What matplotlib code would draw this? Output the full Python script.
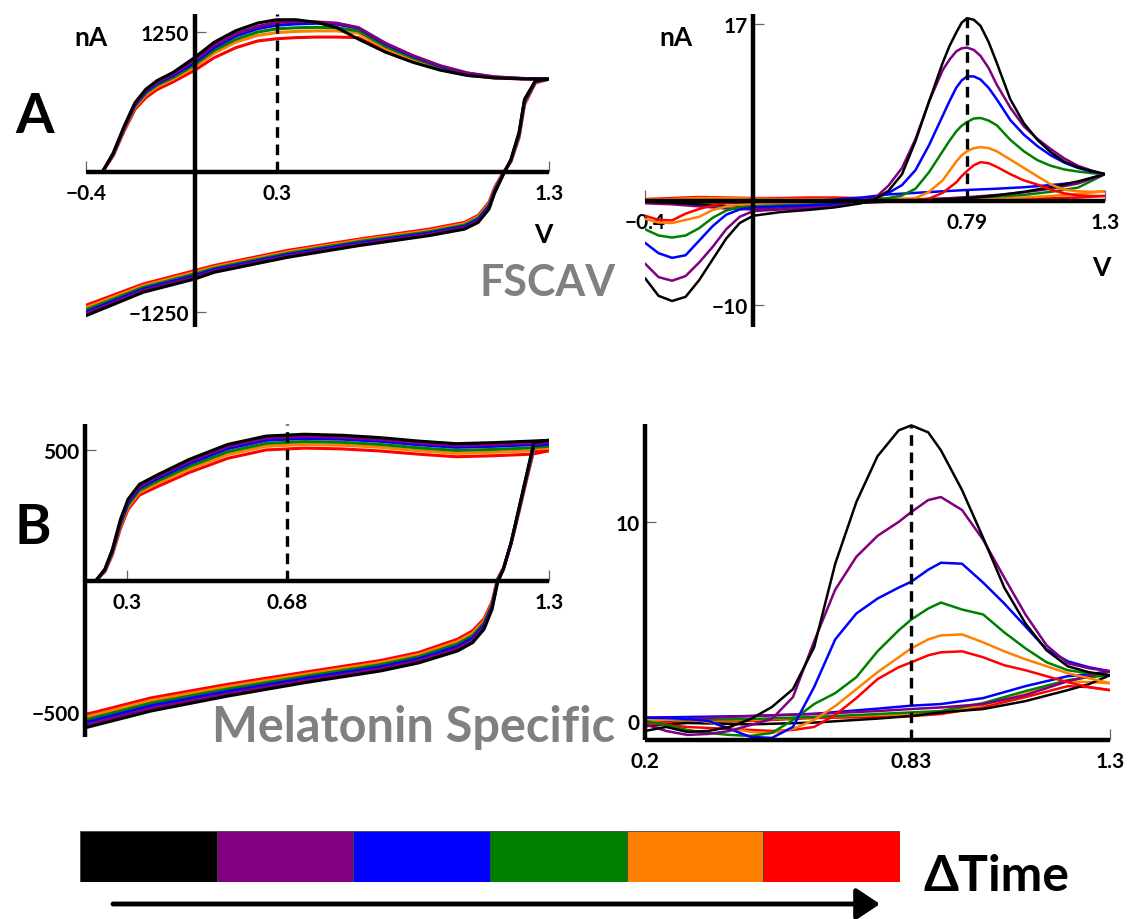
import matplotlib
matplotlib.use("Agg")
import matplotlib.pyplot as plt

W, H = 1129, 920
plt.rcParams['font.family'] = ['Lato', 'DejaVu Sans']
plt.rcParams['font.weight'] = 'bold'

# trace order: earliest (black) -> latest (red)
trace_colors = ["#000000", "#800080", "#0000ff", "#008000", "#ff8000", "#ff0000"]
draw_order = [5, 4, 3, 2, 1, 0]

# ---- A: FSCAV cyclic voltammogram (nA vs V) ----
a_cv_fwd_v = [-0.34, -0.3, -0.26, -0.22, -0.18, -0.14, -0.08, 0.0, 0.07, 0.15, 0.23, 0.30,
              0.37, 0.45, 0.52, 0.6, 0.7, 0.8, 0.9, 1.0, 1.1, 1.2, 1.3]
a_cv_fwd_i = [
    [0, 170, 410, 620, 740, 815, 890, 1024, 1158, 1262, 1330, 1360, 1360, 1335, 1290, 1187, 1070, 980, 910, 862, 840, 832, 830],
    [0, 165, 400, 610, 730, 800, 875, 1000, 1130, 1235, 1300, 1335, 1345, 1340, 1330, 1290, 1150, 1040, 950, 885, 850, 836, 830],
    [0, 160, 395, 600, 720, 790, 862, 980, 1110, 1215, 1280, 1310, 1322, 1328, 1320, 1285, 1140, 1035, 945, 882, 848, 835, 830],
    [0, 155, 388, 590, 705, 775, 845, 960, 1085, 1185, 1250, 1278, 1288, 1292, 1288, 1260, 1120, 1020, 935, 875, 845, 834, 830],
    [0, 150, 380, 578, 690, 760, 830, 940, 1060, 1160, 1220, 1245, 1255, 1260, 1260, 1240, 1100, 1005, 925, 870, 842, 833, 830],
    [0, 145, 365, 560, 665, 735, 805, 910, 1020, 1110, 1170, 1190, 1200, 1205, 1205, 1200, 1080, 990, 915, 865, 840, 831, 830],
]
a_cv_rev_v = [1.3, 1.25, 1.21, 1.19, 1.16, 1.13, 1.1, 1.08, 1.04, 0.99, 0.86, 0.6, 0.34, 0.07, 0.0, -0.19, -0.4]
a_cv_rev_i = [
    [830, 815, 650, 355, 110, -35, -190, -330, -450, -510, -568, -658, -762, -896, -955, -1074, -1283],
    [830, 812, 640, 345, 110, -30, -180, -318, -438, -498, -556, -645, -750, -884, -940, -1060, -1265],
    [830, 808, 630, 335, 105, -25, -170, -305, -425, -486, -545, -634, -738, -872, -925, -1045, -1250],
    [830, 805, 620, 325, 100, -20, -160, -292, -412, -474, -534, -622, -726, -860, -910, -1030, -1230],
    [830, 800, 610, 315, 95, -15, -150, -280, -400, -462, -522, -611, -713, -848, -895, -1015, -1210],
    [830, 795, 600, 305, 90, -10, -140, -268, -388, -450, -510, -600, -700, -835, -880, -1000, -1190],
]
a_cv_marker = 0.3

# ---- A: background-subtracted FSCAV signal ----
a_sig_fwd_v = [-0.4, -0.35, -0.3, -0.25, -0.2, -0.15, -0.1, -0.05, 0.0, 0.1, 0.2, 0.3, 0.4, 0.45,
               0.5, 0.55, 0.6, 0.65, 0.7, 0.725, 0.75, 0.77, 0.79, 0.815, 0.84, 0.87, 0.9, 0.95,
               1.0, 1.05, 1.1, 1.15, 1.2, 1.25, 1.3]
a_sig_fwd_i = [
    [-7.4, -9.1, -9.6, -9.2, -7.6, -5.6, -3.6, -2.1, -1.4, -1.05, -0.85, -0.6, -0.2, 0.2,
     1.0, 2.6, 5.8, 9.6, 13.3, 14.9, 16.2, 17.15, 17.6, 17.45, 16.86, 15.3, 13.3, 9.8,
     7.5, 5.9, 4.7, 3.8, 3.25, 2.9, 2.6],
    [-6.0, -7.3, -7.65, -7.2, -5.9, -4.4, -2.7, -1.5, -0.95, -0.8, -0.7, -0.5, -0.15, 0.3,
     1.5, 3.2, 6.0, 9.6, 12.6, 13.6, 14.4, 14.7, 14.77, 14.55, 13.97, 12.8, 11.2, 9.0,
     7.2, 6.0, 5.0, 4.1, 3.4, 2.95, 2.6],
    [-4.0, -5.0, -5.45, -5.2, -3.8, -2.4, -1.3, -0.8, -0.6, -0.5, -0.4, -0.3, 0.0, 0.3,
     0.8, 1.55, 3.0, 5.4, 8.2, 9.6, 10.9, 11.6, 12.0, 12.0, 11.7, 10.9, 9.8, 7.8,
     6.4, 5.3, 4.4, 3.7, 3.2, 2.85, 2.6],
    [-2.7, -3.3, -3.5, -3.3, -2.6, -1.6, -0.9, -0.6, -0.5, -0.4, -0.35, -0.2, 0.0, 0.1,
     0.3, 0.55, 1.2, 2.8, 4.8, 5.8, 6.7, 7.25, 7.6, 7.95, 8.0, 7.75, 7.3, 5.9,
     4.8, 3.95, 3.4, 3.05, 2.85, 2.7, 2.6],
    [-1.7, -2.05, -2.1, -1.8, -1.5, -0.85, -0.5, -0.35, -0.3, -0.25, -0.2, -0.1, 0.0, 0.05,
     0.1, 0.2, 0.3, 0.9, 2.0, 2.9, 3.8, 4.4, 4.8, 5.1, 5.2, 5.1, 4.8, 4.0,
     3.2, 2.4, 1.6, 1.1, 0.95, 0.9, 0.95],
    [-1.4, -1.8, -1.85, -1.2, -0.75, -0.4, -0.15, -0.1, -0.1, -0.1, -0.05, 0.0, 0.0, 0.0,
     0.05, 0.1, 0.15, 0.25, 0.8, 1.3, 1.8, 2.4, 2.9, 3.45, 3.75, 3.65, 3.3, 2.6,
     2.0, 1.6, 1.1, 0.75, 0.55, 0.5, 0.5],
]
a_sig_rev_v = [1.3, 1.2, 1.1, 1.0, 0.9, 0.8, 0.7, 0.6, 0.5, 0.4, 0.3, 0.2, 0.1, 0.0, -0.1, -0.2, -0.3, -0.4]
a_sig_rev_i = [
    [2.6, 1.9, 1.35, 0.9, 0.55, 0.3, 0.15, 0.05, -0.05, -0.15, -0.25, -0.35, -0.45, -0.5, -0.45, -0.3, -0.15, 0.0],
    [2.6, 1.7, 1.2, 0.85, 0.6, 0.4, 0.25, 0.1, 0.0, -0.1, -0.3, -0.5, -0.7, -0.8, -0.7, -0.5, -0.3, -0.2],
    [2.6, 1.8, 1.55, 1.34, 1.2, 1.09, 0.95, 0.8, 0.65, 0.35, 0.15, 0.0, -0.1, -0.15, -0.1, 0.0, 0.0, 0.0],
    [2.6, 1.3, 0.9, 0.6, 0.45, 0.35, 0.25, 0.15, 0.1, 0.05, 0.0, -0.05, -0.1, -0.2, -0.15, -0.1, 0.0, 0.0],
    [0.95, 0.7, 0.5, 0.35, 0.25, 0.2, 0.15, 0.1, 0.1, 0.15, 0.2, 0.2, 0.2, 0.25, 0.3, 0.3, 0.2, 0.15],
    [0.5, 0.35, 0.3, 0.25, 0.2, 0.15, 0.15, 0.2, 0.25, 0.3, 0.35, 0.35, 0.3, 0.3, 0.35, 0.4, 0.3, 0.2],
]
a_sig_marker = 0.79

# ---- B: melatonin-specific waveform CV ----
b_cv_fwd_v = [0.225, 0.247, 0.265, 0.284, 0.302, 0.329, 0.374, 0.447, 0.538, 0.629, 0.72, 0.81,
              0.9, 0.99, 1.08, 1.17, 1.26, 1.3]
b_cv_fwd_i = [
    [0, 45, 121, 235, 312, 369, 407, 464, 521, 553, 560, 556, 547, 534, 524, 528, 534, 537],
    [0, 43, 117, 228, 305, 362, 400, 456, 513, 545, 552, 548, 540, 527, 517, 521, 527, 530],
    [0, 41, 113, 222, 298, 355, 393, 448, 505, 537, 544, 541, 533, 520, 510, 514, 520, 523],
    [0, 39, 109, 215, 290, 346, 383, 437, 493, 525, 532, 529, 521, 508, 498, 502, 508, 514],
    [0, 37, 105, 208, 282, 338, 374, 427, 482, 514, 521, 518, 510, 497, 487, 491, 497, 507],
    [0, 35, 100, 200, 273, 328, 362, 414, 468, 500, 507, 504, 496, 484, 474, 478, 484, 497],
]
b_cv_rev_v = [1.3, 1.264, 1.246, 1.228, 1.21, 1.192, 1.178, 1.165, 1.146, 1.119, 1.083, 0.992,
              0.901, 0.72, 0.538, 0.356, 0.2]
b_cv_rev_i = [
    [537, 528, 400, 273, 146, 45, -6, -108, -184, -235, -267, -312, -343, -388, -439, -496, -560],
    [530, 522, 396, 270, 145, 46, -3, -102, -176, -226, -258, -304, -335, -380, -430, -486, -550],
    [523, 516, 392, 267, 144, 47, 0, -96, -168, -217, -249, -296, -327, -372, -421, -476, -540],
    [514, 510, 388, 264, 143, 48, 3, -90, -160, -208, -240, -288, -319, -364, -412, -466, -530],
    [507, 504, 384, 261, 142, 49, 6, -84, -152, -199, -231, -280, -311, -356, -403, -456, -520],
    [497, 498, 380, 258, 141, 50, 9, -78, -144, -190, -222, -272, -303, -348, -394, -446, -510],
]
b_cv_marker = 0.68

# ---- B: background-subtracted melatonin signal ----
b_sig_fwd_v = [0.2, 0.25, 0.3, 0.35, 0.4, 0.45, 0.5, 0.55, 0.6, 0.65, 0.7, 0.75, 0.8, 0.83,
               0.87, 0.9, 0.95, 1.0, 1.05, 1.1, 1.15, 1.2, 1.25, 1.3]
b_sig_fwd_i = [
    [-0.5, -0.3, -0.55, -0.5, -0.3, 0.1, 0.7, 1.6, 3.7, 7.9, 11.0, 13.3, 14.6, 14.85,
     14.5, 13.6, 11.6, 9.2, 6.7, 4.9, 3.55, 2.75, 2.45, 2.3],
    [-0.17, -0.5, -0.7, -0.65, -0.5, -0.2, 0.1, 1.2, 4.0, 6.6, 8.25, 9.3, 10.0, 10.5,
     11.1, 11.25, 10.6, 9.1, 7.2, 5.35, 3.8, 2.9, 2.65, 2.5],
    [0.17, 0.15, 0.1, 0.0, -0.4, -0.8, -0.85, -0.3, 1.7, 4.1, 5.4, 6.15, 6.7, 7.0,
     7.6, 7.95, 7.9, 6.95, 5.9, 4.75, 3.6, 3.0, 2.7, 2.5],
    [0.0, -0.2, -0.45, -0.6, -0.7, -0.75, -0.6, 0.05, 0.85, 1.4, 2.2, 3.5, 4.55, 5.1,
     5.65, 5.95, 5.6, 5.35, 4.45, 3.65, 2.95, 2.55, 2.4, 2.3],
    [0.0, 0.05, 0.1, -0.05, -0.35, -0.55, -0.6, -0.4, 0.05, 0.75, 1.6, 2.45, 3.2, 3.65,
     4.1, 4.3, 4.35, 3.95, 3.5, 3.1, 2.75, 2.4, 2.15, 1.9],
    [-0.1, -0.2, -0.3, -0.35, -0.4, -0.45, -0.5, -0.45, -0.3, 0.3, 1.15, 2.1, 2.7, 2.95,
     3.3, 3.45, 3.5, 3.2, 2.8, 2.55, 2.25, 1.95, 1.7, 1.55],
]
b_sig_rev_v = [1.3, 1.25, 1.2, 1.1, 1.0, 0.9, 0.83, 0.75, 0.6, 0.45, 0.3, 0.2]
b_sig_rev_i = [
    [2.3, 1.85, 1.55, 1.0, 0.6, 0.43, 0.25, 0.12, -0.08, -0.17, -0.1, -0.26],
    [2.5, 2.25, 2.0, 1.3, 0.85, 0.68, 0.6, 0.5, 0.35, 0.25, 0.1, -0.09],
    [2.5, 2.35, 2.25, 1.75, 1.15, 0.85, 0.77, 0.62, 0.36, 0.25, 0.2, 0.17],
    [2.3, 2.2, 2.05, 1.5, 0.9, 0.5, 0.43, 0.35, 0.2, 0.1, 0.05, 0.0],
    [1.9, 1.95, 2.0, 1.35, 0.8, 0.45, 0.35, 0.3, 0.2, 0.05, 0.0, 0.0],
    [1.55, 1.7, 1.75, 1.2, 0.7, 0.35, 0.25, 0.2, 0.15, 0.0, -0.05, -0.05],
]
b_sig_marker = 0.83


def px_rect(left, top, width, height):
    return [left / W, 1 - (top + height) / H, width / W, height / H]


def fig_text(x, y, s, **kw):
    fig.text(x / W, 1 - y / H, s, **kw)


def style_axes(ax, xlim, ylim, xticks, xlabels, yticks, ylabels, spine_x, spine_y):
    ax.set_xlim(*xlim)
    ax.set_ylim(*ylim)
    ax.patch.set_alpha(0)
    for s in ("top", "right"):
        ax.spines[s].set_visible(False)
    ax.spines["left"].set_position(("data", spine_x))
    ax.spines["bottom"].set_position(("data", spine_y))
    for s in ("left", "bottom"):
        ax.spines[s].set_linewidth(3.2)
        ax.spines[s].set_capstyle("butt")
        ax.spines[s].set_zorder(4)
    ax.set_xticks(xticks, xlabels)
    ax.set_yticks(yticks, ylabels)
    ax.tick_params(direction="in", length=8, width=0.9, color="#666666", labelsize=15)
    ax.tick_params(axis="x", pad=8)
    ax.tick_params(axis="y", pad=4)


def draw_traces(ax, v, currents, lw):
    for k in draw_order:
        ax.plot(v, currents[k], color=trace_colors[k], lw=lw, solid_capstyle="round",
                solid_joinstyle="round", zorder=3)


fig = plt.figure(figsize=(W / 100, H / 100), dpi=100)
dash = (0, (3.2, 2.0))

# A left: CV
ax1 = fig.add_axes(px_rect(86, 15, 463, 313))
style_axes(ax1, (-0.4, 1.3), (-1384, 1411), [-0.4, 0.3, 1.3], ["\u22120.4", "0.3", "1.3"],
           [-1250, 1250], ["\u22121250", "1250"], 0, 0)
draw_traces(ax1, a_cv_fwd_v, a_cv_fwd_i, 2.2)
draw_traces(ax1, a_cv_rev_v, a_cv_rev_i, 2.2)
ax1.vlines(a_cv_marker, 0, 1411, colors="k", lw=2.4, linestyles=[dash], zorder=5)

# A right: background-subtracted signal
ax2 = fig.add_axes(px_rect(645, 15, 460, 313))
style_axes(ax2, (-0.4, 1.3), (-12.1, 18.0), [-0.4, 0.79, 1.3], ["\u22120.4", "0.79", "1.3"],
           [-10, 17], ["\u221210", "17"], 0, 0)
draw_traces(ax2, a_sig_rev_v, a_sig_rev_i, 1.8)
draw_traces(ax2, a_sig_fwd_v, a_sig_fwd_i, 1.8)
ax2.vlines(a_sig_marker, 0, max(a_sig_fwd_i[0]), colors="k", lw=2.4, linestyles=[dash], zorder=5)

# B left: CV
ax3 = fig.add_axes(px_rect(85, 425, 464, 313))
style_axes(ax3, (0.2, 1.3), (-595, 599), [0.3, 0.68, 1.3], ["0.3", "0.68", "1.3"],
           [-500, 500], ["\u2212500", "500"], 0.2, 0)
draw_traces(ax3, b_cv_fwd_v, b_cv_fwd_i, 2.2)
draw_traces(ax3, b_cv_rev_v, b_cv_rev_i, 2.2)
ax3.vlines(b_cv_marker, 0, 599, colors="k", lw=2.4, linestyles=[dash], zorder=5)

# B right: background-subtracted signal
ax4 = fig.add_axes(px_rect(645, 425, 465, 316))
style_axes(ax4, (0.2, 1.3), (-0.955, 14.92), [0.2, 0.83, 1.3], ["0.2", "0.83", "1.3"],
           [0, 10], ["0", "10"], 0.2, -0.955)
draw_traces(ax4, b_sig_rev_v, b_sig_rev_i, 1.8)
draw_traces(ax4, b_sig_fwd_v, b_sig_fwd_i, 1.8)
ax4.vlines(b_sig_marker, -0.955, max(b_sig_fwd_i[0]), colors="k", lw=2.4, linestyles=[dash], zorder=5)

# axis units and panel letters
fig_text(91, 38, "nA", fontsize=19, ha="center", va="center")
fig_text(543, 235, "V", fontsize=19, ha="center", va="center")
fig_text(676, 38, "nA", fontsize=19, ha="center", va="center")
fig_text(1101, 268, "V", fontsize=19, ha="center", va="center")
fig_text(35, 117, "A", fontsize=40, ha="center", va="center")
fig_text(33, 528, "B", fontsize=40, ha="center", va="center")
fig_text(548, 283, "FSCAV", fontsize=31, ha="center", va="center", color="#808080")
fig_text(414, 727, "Melatonin Specific", fontsize=35, ha="center", va="center", color="#808080")

# time colour key
axk = fig.add_axes(px_rect(80, 832, 820, 51))
axk.bar(range(len(trace_colors)), 1, width=1, align="edge", color=trace_colors,
        edgecolor="#444444", linewidth=0.6)
axk.set_xlim(0, len(trace_colors))
axk.set_ylim(0, 1)
axk.axis("off")
fig.add_artist(plt.Annotation("", xy=(880, H - 905), xytext=(113, H - 905),
                              xycoords="figure pixels", textcoords="figure pixels",
                              arrowprops=dict(arrowstyle="-|>,head_length=0.6,head_width=0.4",
                                              lw=3.5, color="k", mutation_scale=24,
                                              shrinkA=0, shrinkB=0)))
fig_text(996, 877, "\u0394Time", fontsize=36, ha="center", va="center")

fig.savefig("out.png", dpi=100)
